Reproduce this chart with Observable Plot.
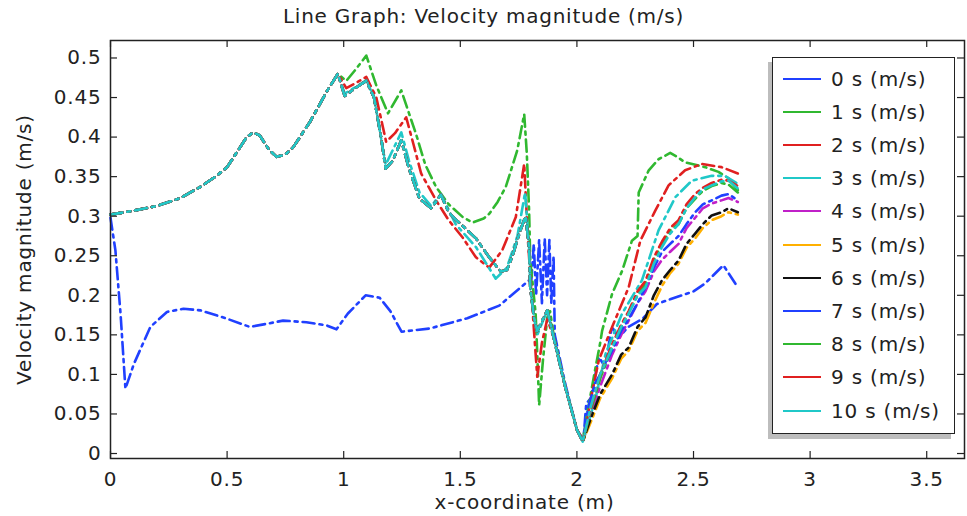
<!DOCTYPE html>
<html><head><meta charset="utf-8">
<script src="https://cdn.jsdelivr.net/npm/d3@7"></script>
<script src="https://cdn.jsdelivr.net/npm/@observablehq/plot@0.6"></script>
<style>
body{margin:0;background:#fff;font-family:"DejaVu Sans",sans-serif;}
#wrap{position:relative;width:967px;height:516px;overflow:hidden;}
#title{height:32px;line-height:32px;text-align:center;font-size:20px;color:#222;letter-spacing:0.75px;}
#legend{position:absolute;left:772px;top:57px;width:181px;height:375px;border:1.5px solid #222;background:#fff;box-shadow:-4px 5px 0 #bdbdbd;}
.row{position:absolute;left:10px;height:33px;display:flex;align-items:center;font-size:20px;color:#222;letter-spacing:0.8px;white-space:nowrap;}
.sw{display:inline-block;width:38px;height:2px;margin-right:10px;}
#chart svg text{letter-spacing:0.8px;}
</style></head>
<body><div id="wrap"><div id="title"></div><div id="chart"></div><div id="legend"></div></div>
<script>
const titleText = "Line Graph: Velocity magnitude (m/s)";
const xLabel = "x-coordinate (m)";
const yLabel = "Velocity magnitude (m/s)";
const seriesNames = ["0 s (m/s)","1 s (m/s)","2 s (m/s)","3 s (m/s)","4 s (m/s)","5 s (m/s)","6 s (m/s)","7 s (m/s)","8 s (m/s)","9 s (m/s)","10 s (m/s)"];
const seriesColors = ["#2040ff","#30b830","#e02020","#20c8c8","#c020c8","#ffb000","#111111","#2040ff","#30b830","#e02020","#20c8c8"];
const xTicks = [0,0.5,1,1.5,2,2.5,3,3.5];
const xTickLabels = ["0","0.5","1","1.5","2","2.5","3","3.5"];
const yTicks = [0,0.05,0.1,0.15,0.2,0.25,0.3,0.35,0.4,0.45,0.5];
const yTickLabels = ["0","0.05","0.1","0.15","0.2","0.25","0.3","0.35","0.4","0.45","0.5"];

// shared part of series 1–10 (x ≤ ~0.98)
const commonStart = [[0,0.302],[0.1,0.307],[0.2,0.313],[0.3,0.323],[0.385,0.337],[0.45,0.35],[0.5,0.362],[0.54,0.38],[0.584,0.4],[0.613,0.406],[0.64,0.402],[0.68,0.384],[0.712,0.375],[0.75,0.378],[0.783,0.387],[0.855,0.419],[0.926,0.457],[0.975,0.48]];
// shared part of series 4–10 (x ~1.0 – 2.03)
const clusterMid = [[1.004,0.452],[1.05,0.462],[1.097,0.471],[1.13,0.45],[1.16,0.4],[1.18,0.36],[1.21,0.37],[1.247,0.396],[1.28,0.36],[1.325,0.322],[1.375,0.31],[1.417,0.327],[1.45,0.305],[1.48,0.296],[1.52,0.285],[1.567,0.272],[1.624,0.248],[1.674,0.23],[1.7,0.232],[1.724,0.25],[1.755,0.28],[1.78,0.3],[1.795,0.26],[1.8,0.21],[1.816,0.172],[1.83,0.155],[1.873,0.181],[1.9,0.147],[1.95,0.084],[2.0,0.03],[2.025,0.015]];

const s0 = [[0,0.298],[0.021,0.257],[0.043,0.177],[0.064,0.082],[0.1,0.113],[0.171,0.16],[0.242,0.179],[0.313,0.183],[0.385,0.181],[0.484,0.172],[0.598,0.16],[0.67,0.164],[0.74,0.168],[0.84,0.166],[0.926,0.162],[0.969,0.157],[1.018,0.177],[1.094,0.2],[1.154,0.197],[1.2,0.18],[1.248,0.154],[1.368,0.158],[1.53,0.171],[1.667,0.187],[1.795,0.219],[1.805,0.22],[1.815,0.265],[1.825,0.2],[1.838,0.27],[1.85,0.19],[1.862,0.272],[1.872,0.2],[1.882,0.27],[1.89,0.19],[1.9,0.25],[1.905,0.15],[1.95,0.088],[2.0,0.03],[2.028,0.017],[2.04,0.063],[2.06,0.07],[2.094,0.122],[2.12,0.11],[2.15,0.16],[2.18,0.147],[2.22,0.16],[2.28,0.17],[2.343,0.189],[2.4,0.195],[2.45,0.2],[2.5,0.205],[2.55,0.215],[2.628,0.238],[2.69,0.21]];
const s1 = [[1.011,0.471],[1.05,0.485],[1.097,0.503],[1.14,0.465],[1.19,0.43],[1.247,0.459],[1.28,0.43],[1.31,0.404],[1.35,0.365],[1.396,0.337],[1.45,0.315],[1.51,0.299],[1.553,0.292],[1.6,0.297],[1.624,0.303],[1.66,0.318],[1.695,0.337],[1.744,0.383],[1.774,0.429],[1.785,0.38],[1.795,0.307],[1.8,0.244],[1.823,0.177],[1.83,0.126],[1.838,0.061],[1.855,0.12],[1.873,0.172],[1.885,0.18],[1.9,0.15],[1.95,0.085],[2.0,0.03],[2.025,0.016],[2.05,0.06],[2.08,0.109],[2.1,0.14],[2.108,0.155],[2.151,0.202],[2.194,0.231],[2.236,0.269],[2.26,0.275],[2.265,0.33],[2.308,0.358],[2.35,0.372],[2.4,0.38],[2.43,0.375],[2.464,0.368],[2.55,0.362],[2.607,0.356],[2.65,0.348],[2.69,0.333]];
const s2 = [[1.011,0.462],[1.05,0.468],[1.097,0.476],[1.14,0.45],[1.182,0.394],[1.22,0.405],[1.268,0.425],[1.3,0.39],[1.332,0.354],[1.396,0.32],[1.45,0.295],[1.51,0.273],[1.567,0.248],[1.624,0.235],[1.68,0.257],[1.738,0.299],[1.774,0.366],[1.79,0.27],[1.816,0.155],[1.83,0.097],[1.85,0.14],[1.873,0.17],[1.9,0.147],[1.95,0.084],[2.0,0.03],[2.03,0.016],[2.06,0.07],[2.094,0.118],[2.151,0.16],[2.222,0.21],[2.272,0.269],[2.336,0.307],[2.393,0.339],[2.464,0.358],[2.535,0.366],[2.62,0.362],[2.69,0.354]];
const s3 = [[1.004,0.455],[1.05,0.463],[1.097,0.472],[1.13,0.45],[1.18,0.365],[1.247,0.406],[1.28,0.37],[1.325,0.33],[1.375,0.313],[1.417,0.328],[1.48,0.29],[1.567,0.261],[1.652,0.221],[1.7,0.235],[1.745,0.275],[1.778,0.33],[1.795,0.26],[1.8,0.21],[1.816,0.172],[1.83,0.15],[1.873,0.181],[1.9,0.147],[1.95,0.084],[2.0,0.03],[2.025,0.015],[2.08,0.07],[2.123,0.126],[2.194,0.177],[2.279,0.219],[2.35,0.282],[2.422,0.324],[2.493,0.345],[2.578,0.351],[2.635,0.351],[2.69,0.341]];
const s4 = [[2.06,0.05],[2.1,0.085],[2.151,0.125],[2.19,0.15],[2.222,0.168],[2.26,0.19],[2.294,0.205],[2.33,0.23],[2.365,0.245],[2.4,0.255],[2.436,0.265],[2.47,0.285],[2.507,0.298],[2.54,0.31],[2.578,0.316],[2.62,0.32],[2.65,0.323],[2.69,0.318]];
const s5 = [[2.06,0.04],[2.1,0.07],[2.151,0.095],[2.19,0.12],[2.222,0.13],[2.26,0.155],[2.294,0.165],[2.33,0.19],[2.365,0.212],[2.4,0.228],[2.436,0.24],[2.47,0.26],[2.507,0.272],[2.54,0.285],[2.578,0.295],[2.62,0.3],[2.65,0.305],[2.69,0.302]];
const s6 = [[2.06,0.045],[2.1,0.075],[2.151,0.1],[2.19,0.125],[2.222,0.134],[2.26,0.16],[2.294,0.172],[2.33,0.2],[2.365,0.219],[2.4,0.232],[2.436,0.244],[2.47,0.265],[2.507,0.278],[2.54,0.29],[2.578,0.301],[2.62,0.305],[2.65,0.31],[2.69,0.305]];
const s7 = [[2.05,0.06],[2.08,0.09],[2.1,0.1],[2.151,0.13],[2.19,0.155],[2.222,0.17],[2.26,0.19],[2.294,0.21],[2.33,0.235],[2.365,0.255],[2.4,0.265],[2.436,0.275],[2.47,0.29],[2.507,0.305],[2.54,0.315],[2.578,0.32],[2.62,0.326],[2.65,0.328],[2.69,0.32]];
const s8 = [[2.06,0.055],[2.1,0.095],[2.151,0.135],[2.19,0.16],[2.222,0.178],[2.26,0.2],[2.294,0.215],[2.33,0.245],[2.365,0.265],[2.4,0.282],[2.436,0.29],[2.47,0.31],[2.507,0.322],[2.54,0.332],[2.578,0.338],[2.62,0.342],[2.65,0.34],[2.69,0.33]];
const s9 = [[2.06,0.058],[2.1,0.1],[2.151,0.138],[2.19,0.163],[2.222,0.18],[2.26,0.205],[2.294,0.218],[2.33,0.248],[2.365,0.268],[2.4,0.285],[2.436,0.295],[2.47,0.315],[2.507,0.328],[2.54,0.336],[2.578,0.342],[2.62,0.346],[2.65,0.345],[2.69,0.338]];
const s10 = [[2.06,0.06],[2.1,0.1],[2.151,0.134],[2.19,0.16],[2.222,0.177],[2.26,0.2],[2.294,0.21],[2.33,0.24],[2.365,0.261],[2.4,0.278],[2.436,0.29],[2.47,0.31],[2.507,0.324],[2.54,0.334],[2.578,0.339],[2.62,0.344],[2.65,0.345],[2.69,0.335]];

const seriesPoints = [
  s0,
  commonStart.concat(s1),
  commonStart.concat(s2),
  commonStart.concat(s3),
  commonStart.concat(clusterMid, s4),
  commonStart.concat(clusterMid, s5),
  commonStart.concat(clusterMid, s6),
  commonStart.concat(clusterMid, s7),
  commonStart.concat(clusterMid, s8),
  commonStart.concat(clusterMid, s9),
  commonStart.concat(clusterMid, s10)
];

const W = 967, H = 484, mT = 8, mB = 58, mL = 110, mR = 3;
const plotW = W - mL - mR, plotH = H - mT - mB, tickLen = 7;

const lineMarks = seriesPoints.map((pts, i) =>
  Plot.line(pts.map(([x, v]) => ({x, v, s: seriesNames[i]})), {
    x: "x", y: "v", stroke: "s", strokeWidth: 2.6, strokeDasharray: "12,5,3,5", strokeLinejoin: "round"
  })
);

const chart = Plot.plot({
  width: W, height: H, marginTop: mT, marginBottom: mB, marginLeft: mL, marginRight: mR,
  x: {domain: [0, 3.662]},
  y: {domain: [-0.0063, 0.5221]},
  color: {domain: seriesNames, range: seriesColors},
  style: {fontFamily: "DejaVu Sans", fontSize: "20px", color: "#222", background: "#fff"},
  marks: [
    Plot.axisX(xTicks, {tickSize: 0, tickPadding: 13, tickFormat: (d, i) => xTickLabels[i], label: null, fontSize: 20}),
    Plot.axisY(yTicks, {tickSize: 0, tickPadding: 9, tickFormat: (d, i) => yTickLabels[i], label: null, fontSize: 20}),
    ...lineMarks,
    Plot.tickX(xTicks, {x: d => d, insetTop: plotH - tickLen, stroke: "#222", strokeWidth: 1.2}),
    Plot.tickX(xTicks, {x: d => d, insetBottom: plotH - tickLen, stroke: "#222", strokeWidth: 1.2}),
    Plot.tickY(yTicks, {y: d => d, insetRight: plotW - tickLen, stroke: "#222", strokeWidth: 1.2}),
    Plot.tickY(yTicks, {y: d => d, insetLeft: plotW - tickLen, stroke: "#222", strokeWidth: 1.2}),
    Plot.frame({stroke: "#222", strokeWidth: 1.5}),
    Plot.text([yLabel], {text: d => d, frameAnchor: "left", textAnchor: "middle", lineAnchor: "middle", rotate: -90, dx: -86, fontSize: 20, fill: "#222"}),
    Plot.text([xLabel], {text: d => d, frameAnchor: "bottom", textAnchor: "middle", dx: -13, dy: 44, lineAnchor: "middle", fontSize: 20, fill: "#222"})
  ]
});
document.getElementById("chart").appendChild(chart);
document.getElementById("title").textContent = titleText;

const legend = document.getElementById("legend");
seriesNames.forEach((name, i) => {
  const row = document.createElement("div");
  row.className = "row";
  row.style.top = (20.5 + 33.2 * i - 16.5) + "px";
  const sw = document.createElement("span");
  sw.className = "sw";
  sw.style.background = seriesColors[i];
  row.appendChild(sw);
  row.appendChild(document.createTextNode(name));
  legend.appendChild(row);
});
</script></body></html>
